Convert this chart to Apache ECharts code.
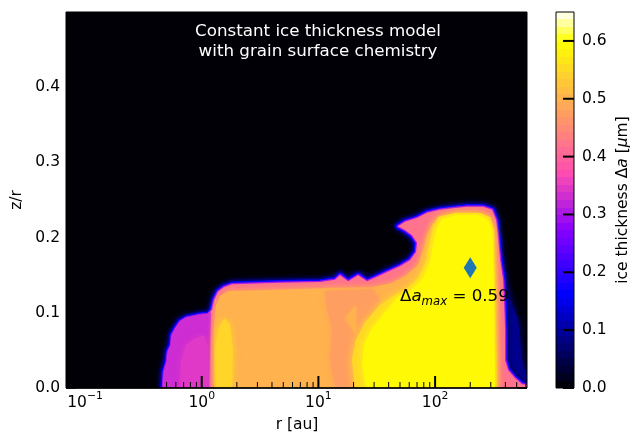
<!DOCTYPE html>
<html>
<head>
<meta charset="utf-8">
<script src="https://cdn.jsdelivr.net/npm/echarts@6/dist/echarts.min.js"></script>
<style>
html,body{margin:0;padding:0;background:#ffffff;}
#chart{width:642px;height:435px;}
</style>
</head>
<body>
<div id="chart"></div>
<script>
// ---------------- data ----------------
// axis ranges
const rMin = 0.0687, rMax = 613;          // r [au], log axis
const zMin = 0, zMax = 0.5;               // z/r
const cbMin = 0, cbMax = 0.65;            // ice thickness colour range [um]

// tick values / labels
const yTicks = [0, 0.1, 0.2, 0.3, 0.4];
const cbTicks = [0, 0.1, 0.2, 0.3, 0.4, 0.5, 0.6];
const xMajorTicks = [0.1, 1, 10, 100];
const xMajorExp = ['\u22121', '0', '1', '2'];
const xMinorTicks = [0.07, 0.08, 0.09, 0.2, 0.3, 0.4, 0.5, 0.6, 0.7, 0.8, 0.9,
  2, 3, 4, 5, 6, 7, 8, 9, 20, 30, 40, 50, 60, 70, 80, 90, 200, 300, 400, 500, 600];

// contour regions: vertices (r [au], z/r) and the ice thickness level of each region
// outer envelope of the ice region (level ~0.42 inside its rim)
const envR = [0.466, 0.475, 0.504, 0.514, 0.546, 0.556, 0.602, 0.652, 0.733, 0.967, 1.13, 1.23, 1.28, 1.38, 1.55, 1.82,
  4.69, 10.3, 13.9, 15.3, 18.0, 21.9, 26.1, 31.8, 41.1, 50.1, 61.0, 68.7, 70.0, 63.5, 55.3, 48.2, 55.3, 70.0, 85.3,
  110, 143, 188, 258, 308, 333, 347, 361, 383, 390, 398, 398, 422, 485, 557, 700, 700];
const envZ = [0, 0.021, 0.035, 0.048, 0.057, 0.070, 0.080, 0.088, 0.093, 0.097, 0.098, 0.104, 0.117, 0.128, 0.134, 0.138,
  0.140, 0.141, 0.144, 0.150, 0.142, 0.150, 0.142, 0.148, 0.156, 0.162, 0.170, 0.181, 0.193, 0.203, 0.210, 0.215, 0.221, 0.226, 0.233,
  0.237, 0.239, 0.241, 0.241, 0.237, 0.223, 0.197, 0.170, 0.144, 0.117, 0.077, 0.037, 0.024, 0.013, 0.005, 0.003, 0];
// faint halo beyond the outer right edge
const lowR = [361, 411, 514, 557, 610, 700, 361];
const lowZ = [0.144, 0.130, 0.090, 0.037, 0.016, 0, 0];
// inner purple zone r < 1.2 au
const purR = [0.466, 0.475, 0.504, 0.514, 0.546, 0.556, 0.602, 0.652, 0.733, 0.967, 1.13, 1.20, 1.18, 1.155];
const purZ = [0, 0.021, 0.035, 0.048, 0.057, 0.070, 0.080, 0.088, 0.093, 0.097, 0.098, 0.101, 0.064, 0];
// lighter magenta patch inside the purple zone
const magR = [0.652, 0.665, 0.733, 0.876, 1.046, 1.13, 1.13];
const magZ = [0, 0.037, 0.057, 0.066, 0.070, 0.057, 0];
// main orange body
const oraR = [1.275, 1.275, 1.326, 1.435, 1.68, 3.16, 12.6, 28.8, 42.8, 55.3, 71.4, 78.9, 85.3, 96.0, 126.6, 180.6, 268, 301.8, 320.3, 333, 339.8];
const oraZ = [0, 0.084, 0.110, 0.122, 0.129, 0.130, 0.133, 0.134, 0.1396, 0.149, 0.1636, 0.1835, 0.2035, 0.2194, 0.2234, 0.223, 0.221, 0.203, 0.157, 0.077, 0];
// pinkish-orange zone around 12-30 au
const pmR = [11.4, 28.8, 33.8, 26.6, 22.7, 21.0, 19.4, 13.9, 12.6, 13.1, 11.9];
const pmZ = [0.129, 0.1316, 0.117, 0.0838, 0.0572, 0.0239, 0, 0, 0.0372, 0.0771, 0.1037];
// small orange pocket inside it
const triR = [16.9, 21.0, 21.0];
const triZ = [0.0931, 0.1104, 0.0705];
// yellowish strip at ~1.3-1.9 au
const lyR = [1.326, 1.300, 1.380, 1.553, 1.748, 1.855, 1.819];
const lyZ = [0, 0.0505, 0.0771, 0.0931, 0.0838, 0.0505, 0];
// light orange transition around the outer yellow zone
const trR = [20.6, 19.4, 21.0, 25.1, 33.8, 43.6, 55.3, 71.4, 83.7, 88.8, 96.0, 106.0, 148.3, 242.9, 295.8, 320, 326.6];
const trZ = [0, 0.0372, 0.0638, 0.0878, 0.1104, 0.1223, 0.1303, 0.1463, 0.1676, 0.1902, 0.2128, 0.2274, 0.2327, 0.2327, 0.2274, 0.2101, 0];
// outer yellow zone
const yeR = [25.6, 23.7, 24.6, 28.8, 38.8, 48.2, 63.5, 78.9, 90.5, 96.0, 104, 114.7, 154.3, 228.9, 278.9, 308, 313.9, 320, 320, 326.6];
const yeZ = [0, 0.0306, 0.0572, 0.0798, 0.1037, 0.1210, 0.1303, 0.1463, 0.1676, 0.1902, 0.2128, 0.2247, 0.2301, 0.2301, 0.2247, 0.2101, 0.1676, 0.1277, 0.0638, 0];
// level of each region, in drawing order: low, env, pur, mag, ora, pm, tri, ly, tr, ye
const regionLevels = [0.09, 0.42, 0.33, 0.345, 0.50, 0.475, 0.50, 0.545, 0.55, 0.59];

// maximum marker and its annotation
const maxR = [200];
const maxZ = [0.16];
const maxValue = [0.59];
const annR = [50];
const annZ = [0.121];

// ---------------- colour map (gnuplot2) ----------------
function clamp01(v) { return Math.max(0, Math.min(1, v)); }
function cmap(v) {
  const x = clamp01((v - cbMin) / (cbMax - cbMin));
  const r = clamp01(x / 0.32 - 0.78125);
  const g = clamp01(2 * x - 0.84);
  let b;
  if (x < 0.25) b = x / 0.25;
  else if (x < 0.42) b = 1;
  else if (x < 0.92) b = 1 - (x - 0.42) / 0.5;
  else b = (x - 0.92) / 0.08;
  b = clamp01(b);
  return 'rgb(' + Math.round(r * 255) + ',' + Math.round(g * 255) + ',' + Math.round(b * 255) + ')';
}

// ---------------- build ----------------
const FONT = 'DejaVu Sans';
const regionR = [lowR, envR, purR, magR, oraR, pmR, triR, lyR, trR, yeR];
const regionZ = [lowZ, envZ, purZ, magZ, oraZ, pmZ, triZ, lyZ, trZ, yeZ];
const regionBlur = [10, 0, 2, 6, 7, 6, 4, 7, 8, 6];
const ENV_INDEX = 1;

const chart = echarts.init(document.getElementById('chart'), null, {renderer: 'canvas'});

const cbStops = [];
const NB = 50;
for (let i = 0; i < NB; i++) {
  const c = cmap(cbMin + (i + 0.5) / NB * (cbMax - cbMin));
  cbStops.push({offset: i / NB, color: c});
  cbStops.push({offset: (i + 1) / NB, color: c});
}

const option = {
  animation: false,
  backgroundColor: '#ffffff',
  textStyle: {fontFamily: FONT},
  grid: [
    {left: 66, top: 12, width: 461, height: 376, show: false},
    {left: 556, top: 12, width: 18, height: 376, show: false}
  ],
  xAxis: [
    {gridIndex: 0, type: 'log', logBase: 10, min: rMin, max: rMax,
      axisLine: {show: false}, axisTick: {show: false}, axisLabel: {show: false}, splitLine: {show: false}},
    {gridIndex: 1, type: 'value', min: 0, max: 1, show: false}
  ],
  yAxis: [
    {gridIndex: 0, type: 'value', min: zMin, max: zMax, interval: 0.1,
      axisLine: {show: false}, axisTick: {show: false},
      axisLabel: {show: true, margin: 6, color: '#000', fontSize: 15.5, fontFamily: FONT,
        formatter: function (v) { return yTicks.some(t => Math.abs(t - v) < 1e-6) ? v.toFixed(1) : ''; }},
      splitLine: {show: false}},
    {gridIndex: 1, type: 'value', min: cbMin, max: cbMax, interval: 0.1, position: 'right',
      axisLine: {show: false}, axisTick: {show: false},
      axisLabel: {show: true, margin: 8, color: '#000', fontSize: 15.5, fontFamily: FONT,
        formatter: function (v) { return cbTicks.some(t => Math.abs(t - v) < 1e-6) ? v.toFixed(1) : ''; }},
      splitLine: {show: false}}
  ],
  graphic: [
    {type: 'text', x: 318, y: 41.5, silent: true, z: 100,
      style: {text: 'Constant ice thickness model\nwith grain surface chemistry', fill: '#ffffff',
        fontSize: 16.7, fontFamily: FONT, lineHeight: 20,
        align: 'center', verticalAlign: 'middle', textAlign: 'center', textVerticalAlign: 'middle'}},
    {type: 'text', x: 17, y: 200, rotation: Math.PI / 2, silent: true,
      style: {text: 'z/r', fill: '#000', fontSize: 15.5, fontFamily: FONT,
        align: 'center', verticalAlign: 'middle', textAlign: 'center', textVerticalAlign: 'middle'}},
    {type: 'text', x: 297, y: 425, silent: true,
      style: {text: 'r [au]', fill: '#000', fontSize: 15.5, fontFamily: FONT,
        align: 'center', verticalAlign: 'middle', textAlign: 'center', textVerticalAlign: 'middle'}},
    {type: 'text', x: 623, y: 200, rotation: Math.PI / 2, silent: true,
      style: {text: '{n|ice thickness \u0394}{i|a}{n| [}{i|\u03bc}{n|m]}', fill: '#000',
        fontSize: 15.5, fontFamily: FONT,
        align: 'center', verticalAlign: 'middle', textAlign: 'center', textVerticalAlign: 'middle',
        rich: {
          n: {fontSize: 15.5, fontFamily: FONT, fill: '#000', color: '#000'},
          i: {fontSize: 15.5, fontFamily: FONT, fontStyle: 'italic', fill: '#000', color: '#000'}
        }}}
  ],
  series: [
    {
      type: 'custom', name: 'background', xAxisIndex: 0, yAxisIndex: 0, clip: false, silent: true, z: 1,
      data: [[1, 0.1]],
      renderItem: function (params, api) {
        const tl = api.coord([rMin, zMax]);
        const br = api.coord([rMax, zMin]);
        return {type: 'rect', shape: {x: tl[0], y: tl[1], width: br[0] - tl[0], height: br[1] - tl[1]},
          style: {fill: cmap(0.004)}};
      }
    },
    {
      type: 'custom', name: 'ice', xAxisIndex: 0, yAxisIndex: 0, clip: true, silent: true, z: 2,
      data: regionR.map(function (_, i) { return [1 + i, 0.1]; }),
      renderItem: function (params, api) {
        const i = params.dataIndex;
        const rs = regionR[i], zs = regionZ[i];
        const pts = rs.map(function (r, k) { return api.coord([r, zs[k]]); });
        const col = cmap(regionLevels[i]);
        if (i === ENV_INDEX) {
          return {type: 'group', children: [
            {type: 'polygon', shape: {points: pts}, style: {fill: 'none', stroke: cmap(0.07), lineWidth: 9, lineJoin: 'round', shadowBlur: 5, shadowColor: cmap(0.07)}},
            {type: 'polygon', shape: {points: pts}, style: {fill: 'none', stroke: cmap(0.17), lineWidth: 5.5, lineJoin: 'round'}},
            {type: 'polygon', shape: {points: pts}, style: {fill: 'none', stroke: cmap(0.3), lineWidth: 2.5, lineJoin: 'round'}},
            {type: 'polygon', shape: {points: pts}, style: {fill: col}}
          ]};
        }
        return {type: 'polygon', shape: {points: pts},
          style: {fill: col, shadowBlur: regionBlur[i], shadowColor: col}};
      }
    },
    {
      type: 'scatter', name: 'max', xAxisIndex: 0, yAxisIndex: 0, silent: true, z: 5,
      symbol: 'diamond', symbolSize: [13, 21],
      itemStyle: {color: '#1f77b4', opacity: 1},
      data: maxR.map(function (r, i) { return [r, maxZ[i]]; })
    },
    {
      type: 'custom', name: 'annotation', xAxisIndex: 0, yAxisIndex: 0, clip: false, silent: true, z: 6,
      data: annR.map(function (r, i) { return [r, annZ[i], maxValue[i]]; }),
      renderItem: function (params, api) {
        const p = api.coord([api.value(0), api.value(1)]);
        return {type: 'text', x: p[0], y: p[1],
          style: {text: '{d|\u0394}{a|a}{s|max}{n| = ' + api.value(2).toFixed(2) + '}',
            align: 'left', verticalAlign: 'middle', textAlign: 'left', textVerticalAlign: 'middle',
            rich: {
              d: {fontSize: 16.7, fontFamily: FONT, fill: '#000', color: '#000', lineHeight: 22, verticalAlign: 'middle'},
              a: {fontSize: 16.7, fontFamily: FONT, fontStyle: 'italic', fill: '#000', color: '#000', lineHeight: 22, verticalAlign: 'middle'},
              s: {fontSize: 11.7, fontFamily: FONT, fontStyle: 'italic', fill: '#000', color: '#000', lineHeight: 12, verticalAlign: 'bottom'},
              n: {fontSize: 16.7, fontFamily: FONT, fill: '#000', color: '#000', lineHeight: 22, verticalAlign: 'middle'}
            }}};
      }
    },
    {
      type: 'custom', name: 'xticks', xAxisIndex: 0, yAxisIndex: 0, clip: false, silent: true, z: 8,
      data: xMajorTicks.map(function (r, i) { return [r, 0, 1, i]; })
        .concat(xMinorTicks.map(function (r) { return [r, 0, 0, -1]; })),
      renderItem: function (params, api) {
        const p = api.coord([api.value(0), 0]);
        const major = api.value(2) === 1;
        const children = [{type: 'line', shape: {x1: p[0], y1: p[1], x2: p[0], y2: p[1] - (major ? 12 : 6)},
          style: {stroke: '#000', lineWidth: major ? 2 : 1}}];
        if (major) {
          children.push({type: 'text', x: p[0], y: p[1] + 3,
            style: {text: '{b|10}{s|' + xMajorExp[api.value(3)] + '}',
              align: 'center', verticalAlign: 'top', textAlign: 'center', textVerticalAlign: 'top',
              rich: {
                b: {fontSize: 15.5, fontFamily: FONT, fill: '#000', color: '#000', lineHeight: 24, verticalAlign: 'middle'},
                s: {fontSize: 10.8, fontFamily: FONT, fill: '#000', color: '#000', lineHeight: 11, verticalAlign: 'top'}
              }}});
        }
        return {type: 'group', children: children};
      }
    },
    {
      type: 'custom', name: 'yticks', xAxisIndex: 0, yAxisIndex: 0, clip: false, silent: true, z: 8,
      data: yTicks.map(function (v) { return [1, v]; }),
      renderItem: function (params, api) {
        const pl = api.coord([rMin, api.value(1)]);
        const pr = api.coord([rMax, api.value(1)]);
        return {type: 'group', children: [
          {type: 'line', shape: {x1: pl[0], y1: pl[1], x2: pl[0] + 10, y2: pl[1]}, style: {stroke: '#000', lineWidth: 1.5}},
          {type: 'line', shape: {x1: pr[0], y1: pr[1], x2: pr[0] - 10, y2: pr[1]}, style: {stroke: '#000', lineWidth: 1.5}}
        ]};
      }
    },
    {
      type: 'custom', name: 'frame', xAxisIndex: 0, yAxisIndex: 0, clip: false, silent: true, z: 9,
      data: [[1, 0.1]],
      renderItem: function (params, api) {
        const tl = api.coord([rMin, zMax]);
        const br = api.coord([rMax, zMin]);
        return {type: 'group', children: [
          {type: 'rect', shape: {x: tl[0], y: tl[1], width: br[0] - tl[0], height: br[1] - tl[1]},
            style: {fill: 'none', stroke: '#000', lineWidth: 1}},
          {type: 'line', shape: {x1: tl[0], y1: br[1], x2: br[0], y2: br[1]},
            style: {stroke: '#000', lineWidth: 1.6}}
        ]};
      }
    },
    {
      type: 'custom', name: 'colorbar', xAxisIndex: 1, yAxisIndex: 1, clip: false, silent: true, z: 2,
      data: [[0.5, cbMax]],
      renderItem: function (params, api) {
        const tl = api.coord([0, cbMax]);
        const br = api.coord([1, cbMin]);
        return {type: 'rect', shape: {x: tl[0], y: tl[1], width: br[0] - tl[0], height: br[1] - tl[1]},
          style: {fill: {type: 'linear', x: 0, y: 1, x2: 0, y2: 0, global: false, colorStops: cbStops},
            stroke: '#000', lineWidth: 1}};
      }
    },
    {
      type: 'custom', name: 'cbticks', xAxisIndex: 1, yAxisIndex: 1, clip: false, silent: true, z: 4,
      data: cbTicks.map(function (v) { return [1, v]; }),
      renderItem: function (params, api) {
        const p = api.coord([1, api.value(1)]);
        return {type: 'line', shape: {x1: p[0], y1: p[1], x2: p[0] - 11, y2: p[1]},
          style: {stroke: '#000', lineWidth: 2}};
      }
    }
  ]
};
chart.setOption(option);
</script>
</body>
</html>
